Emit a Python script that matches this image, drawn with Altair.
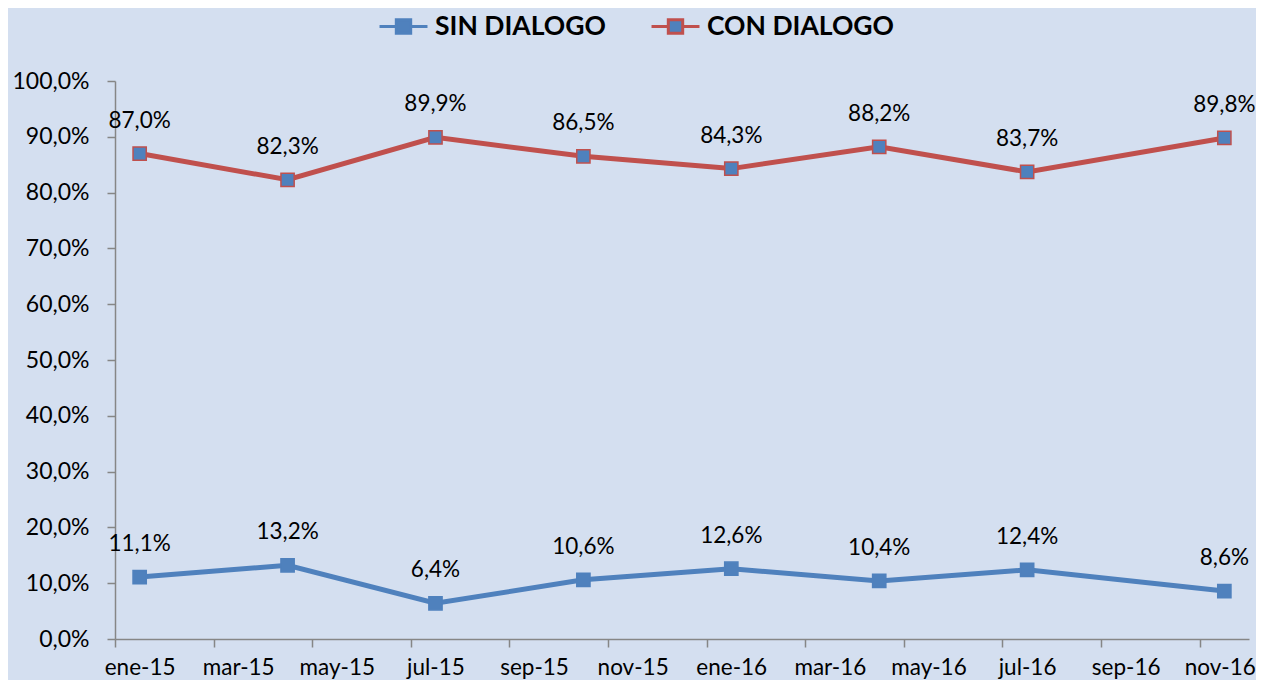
import altair as alt
import pandas as pd

# month index (0 = ene-15) of each observation
months = [0, 3, 6, 9, 12, 15, 18, 22]
sin_dialogo = [11.1, 13.2, 6.4, 10.6, 12.6, 10.4, 12.4, 8.6]
con_dialogo = [87.0, 82.3, 89.9, 86.5, 84.3, 88.2, 83.7, 89.8]
series_names = ["SIN DIALOGO", "CON DIALOGO"]
tick_labels = ["ene-15", "mar-15", "may-15", "jul-15", "sep-15", "nov-15",
               "ene-16", "mar-16", "may-16", "jul-16", "sep-16", "nov-16"]

rows = []
for name, vals in zip(series_names, [sin_dialogo, con_dialogo]):
    for m, v in zip(months, vals):
        rows.append({"serie": name, "mes": m + 0.5, "valor": v,
                     "etiqueta": f"{v:.1f}".replace(".", ",") + "%"})
df = pd.DataFrame(rows)

BLUE = "#4f81bd"
RED = "#c0504d"
FONT = "Lato"

label_expr = "[" + ",".join(f"'{t}'" for t in tick_labels) + "][datum.value/2]"

x_enc = alt.X("mes:Q",
              scale=alt.Scale(domain=[0, 23], nice=False, zero=False),
              axis=alt.Axis(values=list(range(0, 23, 2)), labelExpr=label_expr,
                            labelOffset={"condition": {"test": "datum.value == 22", "value": 20},
                                         "value": 24.6},
                            grid=False, title=None,
                            labelOverlap=False, labelBound=False, labelFlush=False,
                            domainColor="#868686", tickColor="#868686",
                            tickSize=8, domainWidth=1.5, tickWidth=1.5,
                            labelFontSize=22.5, labelPadding=9, labelColor="#000000",
                            labelFont=FONT))
y_enc = alt.Y("valor:Q",
              scale=alt.Scale(domain=[0, 100], nice=False),
              axis=alt.Axis(values=list(range(0, 101, 10)),
                            labelExpr="replace(format(datum.value, '.1f'), '.', ',') + '%'",
                            grid=False, title=None, labelOverlap=False,
                            domainColor="#868686", tickColor="#868686",
                            tickSize=8, domainWidth=1.5, tickWidth=1.5,
                            labelFontSize=23, labelPadding=18, labelColor="#000000",
                            labelFont=FONT))

color_scale = alt.Scale(domain=series_names, range=[BLUE, RED])

legend_path = ("M-1,0H-0.3M0.3,0H1"
               "M-0.3,-0.28H0.3V0.28H-0.3Z")

lines = alt.Chart(df).mark_line(strokeWidth=5).encode(
    x=x_enc, y=y_enc,
    stroke=alt.Stroke("serie:N", scale=color_scale, sort=series_names,
                      legend=alt.Legend(title=None, orient="none", direction="horizontal",
                                        legendX=263, legendY=-80, padding=0,
                                        symbolType=legend_path, symbolSize=2300,
                                        symbolStrokeWidth=3, symbolFillColor=BLUE,
                                        labelFontSize=26.5, labelFontWeight="bold",
                                        labelFont=FONT, labelColor="#000000",
                                        labelLimit=400,
                                        columnPadding=39, labelOffset=6)),
)

points = alt.Chart(df).mark_point(shape="square", filled=True, size=175,
                                  fill=BLUE, strokeWidth=1.5, opacity=1).encode(
    x="mes:Q", y="valor:Q",
    stroke=alt.Stroke("serie:N", scale=color_scale, sort=series_names),
)

labels = alt.Chart(df).mark_text(fontSize=22.5, font=FONT, color="#000000",
                                 baseline="middle", dy=-33).encode(
    x="mes:Q", y="valor:Q", text="etiqueta:N")

chart = alt.layer(lines, points, labels).properties(
    width=1134, height=558,
    autosize=alt.AutoSizeParams(type="none"),
    padding={"left": 107, "top": 73, "right": 7, "bottom": 41},
    background="#d4dff0",
).configure_view(stroke=None)

chart.save("out.html", embed_options={"renderer": "svg", "actions": False})
